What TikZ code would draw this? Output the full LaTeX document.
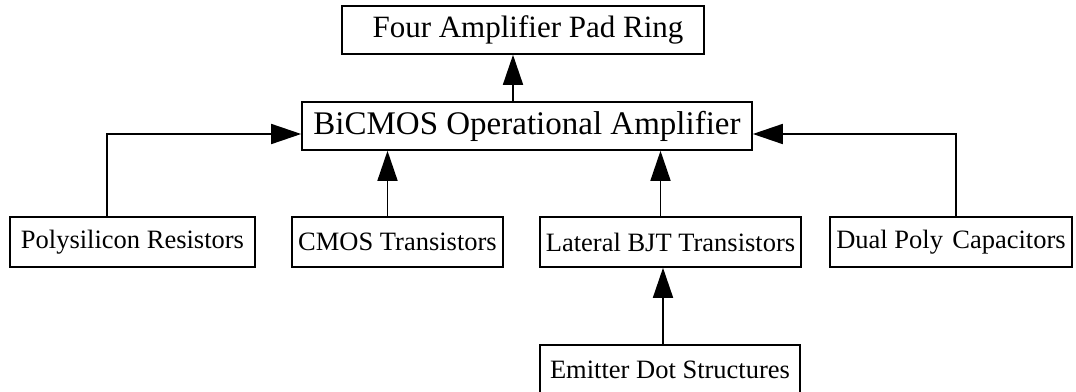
\documentclass[tikz,border=0pt]{standalone}
\usepackage{fontspec}
\setmainfont{Liberation Serif}
\usetikzlibrary{arrows.meta}
\begin{document}
\begin{tikzpicture}[x=1pt,y=-1pt,
  boxstyle/.style={draw=black,line width=1.6pt,inner sep=0pt,rectangle},
  lowbox/.style={boxstyle,minimum height=50pt,font=\fontsize{26.5}{30}\selectfont},
  arr/.style={line width=1.6pt,-{Triangle[length=30pt,width=20pt]}}]
\useasboundingbox (0,0) rectangle (1076,391);
\node[boxstyle,minimum width=362pt,minimum height=48pt,font=\fontsize{31}{34}\selectfont] (pad) at (523,30) {\hspace*{10pt}Four Amplifier Pad Ring};
\node[boxstyle,minimum width=450pt,minimum height=48pt,font=\fontsize{33}{36}\selectfont] (bicmos) at (527,126) {BiCMOS Operational Amplifier};
\node[lowbox,minimum width=245pt] (poly) at (132.5,242) {Polysilicon Resistors};
\node[lowbox,minimum width=211pt] (cmos) at (397.5,242) {CMOS Transistors};
\node[lowbox,minimum width=261pt] (bjt) at (670.5,242) {Lateral BJT Transistors};
\node[lowbox,minimum width=242pt] (dual) at (951,242) {Dual Poly\hspace{0.35em}Capacitors};
\node[lowbox,minimum width=260pt] (emit) at (670,370) {Emitter Dot Structures};
\draw[arr] ([xshift=-14pt]bicmos.north) -- ([xshift=-14pt]bicmos.north |- pad.south);
\draw[arr] ([xshift=-25.5pt]poly.north) |- ([yshift=-8pt]bicmos.west);
\draw[arr] ([xshift=5pt]dual.north) |- ([yshift=-8pt]bicmos.east);
\draw[arr] ([xshift=-10pt]cmos.north) -- ([xshift=-10pt]cmos.north |- bicmos.south);
\draw[arr] ([xshift=-10pt]bjt.north) -- ([xshift=-10pt]bjt.north |- bicmos.south);
\draw[arr] ([xshift=-7pt]emit.north) -- ([xshift=-7pt]emit.north |- bjt.south);
\end{tikzpicture}
\end{document}
